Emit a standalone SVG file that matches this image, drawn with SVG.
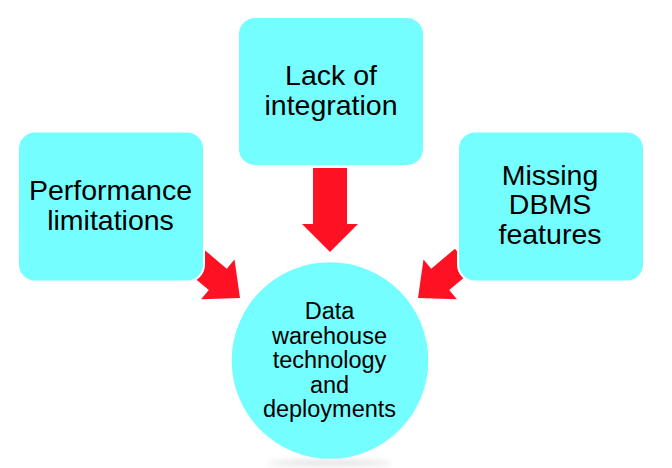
<svg xmlns="http://www.w3.org/2000/svg" width="672" height="468" viewBox="0 0 672 468">
  <style>
    .box { fill: #74FEFF; stroke: #FFFFFF; stroke-width: 2; }
    .arrow { fill: #FE1122; }
    .lbl { font-family: "Liberation Sans", Arial, sans-serif; font-size: 28.5px; fill: #000; text-anchor: middle; }
    .clbl { font-family: "Liberation Sans", Arial, sans-serif; font-size: 23.5px; fill: #000; text-anchor: middle; }
  </style>
  <defs>
    <polygon id="arr" points="0,0 -29,-26 -29,-14 -60,-14 -60,14 -29,14 -29,26"/>
    <filter id="blur" x="-20%" y="-200%" width="140%" height="500%">
      <feGaussianBlur stdDeviation="3"/>
    </filter>
  </defs>
  <rect width="672" height="468" fill="#FFFFFF"/>

  <g id="connectors">
    <polygon class="arrow" points="313,168 347,168 347,224 358,224 330,252 302,224 313,224"/>
    <use href="#arr" class="arrow" transform="translate(240,298) rotate(40)"/>
    <use href="#arr" class="arrow" transform="translate(418,298) scale(-1,1) rotate(40)"/>
  </g>

  <g id="node-integration">
    <rect class="box" x="238" y="17" width="186" height="149" rx="17"/>
    <text class="lbl" x="331" y="85">Lack of</text>
    <text class="lbl" x="331" y="114.5">integration</text>
  </g>

  <g id="node-performance">
    <rect class="box" x="18" y="131.5" width="186" height="150" rx="17"/>
    <text class="lbl" x="110.5" y="200">Performance</text>
    <text class="lbl" x="110.5" y="229.5">limitations</text>
  </g>

  <g id="node-dbms">
    <rect class="box" x="458" y="131.5" width="186" height="150" rx="17"/>
    <text class="lbl" x="550" y="184.5">Missing</text>
    <text class="lbl" x="550" y="214.3">DBMS</text>
    <text class="lbl" x="550" y="244">features</text>
  </g>

  <g id="node-dw">
    <ellipse cx="330" cy="463" rx="62" ry="3" fill="#000" opacity="0.12" filter="url(#blur)"/>
    <circle cx="330" cy="360.5" r="98.3" fill="#74FEFF"/>
    <text class="clbl" x="329.5" y="319">Data</text>
    <text class="clbl" x="329.5" y="343.5">warehouse</text>
    <text class="clbl" x="329.5" y="368">technology</text>
    <text class="clbl" x="329.5" y="392.5">and</text>
    <text class="clbl" x="329.5" y="417">deployments</text>
  </g>
</svg>
